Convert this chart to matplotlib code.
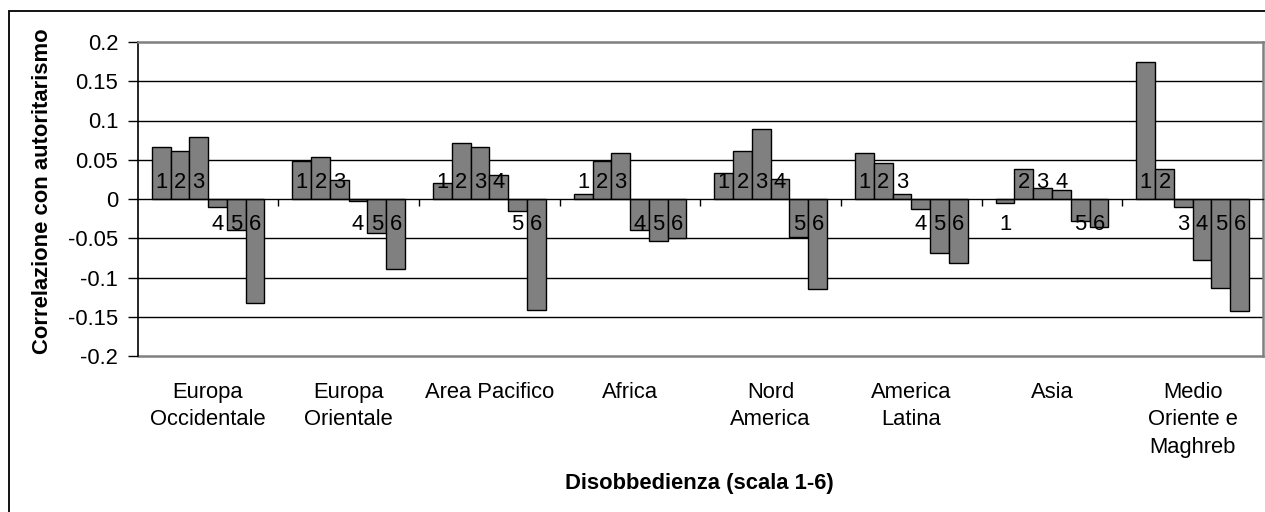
import numpy as np
import matplotlib.pyplot as plt
import matplotlib.transforms as mtransforms
from matplotlib.patches import Rectangle

plt.rcParams['font.family'] = ['Liberation Sans', 'DejaVu Sans']
plt.rcParams['axes.unicode_minus'] = False

regioni = ["Europa\nOccidentale", "Europa\nOrientale", "Area Pacifico", "Africa",
           "Nord\nAmerica", "America\nLatina", "Asia", "Medio\nOriente e\nMaghreb"]
livelli = ["1", "2", "3", "4", "5", "6"]

# correlazione per livello di disobbedienza (1..6), una lista per regione
europa_occ = [0.066, 0.061, 0.079, -0.010, -0.039, -0.133]
europa_ori = [0.049, 0.053, 0.024, -0.003, -0.043, -0.089]
area_pac = [0.020, 0.071, 0.066, 0.030, -0.015, -0.142]
africa = [0.007, 0.049, 0.059, -0.039, -0.054, -0.050]
nord_am = [0.033, 0.061, 0.089, 0.026, -0.049, -0.115]
america_lat = [0.059, 0.046, 0.007, -0.013, -0.069, -0.082]
asia = [-0.005, 0.038, 0.014, 0.012, -0.028, -0.036]
medio_or = [0.175, 0.038, -0.010, -0.078, -0.114, -0.143]

valori = [europa_occ, europa_ori, area_pac, africa, nord_am, america_lat, asia, medio_or]

yticks = [0.2, 0.15, 0.1, 0.05, 0, -0.05, -0.1, -0.15, -0.2]
ytick_labels = ["0.2", "0.15", "0.1", "0.05", "0", "-0.05", "-0.1", "-0.15", "-0.2"]

fs = 15.8
fig = plt.figure(figsize=(12.65, 5.12), dpi=100)
ax = fig.add_axes([137.7 / 1265, 1 - 356 / 512, (1263 - 137.7) / 1265, 314 / 512])

w = 1 / 7.5
for i, vals in enumerate(valori):
    for j, v in enumerate(vals):
        x = i + 0.5 + (j - 2.5) * w
        ax.bar(x, v, width=w, color="#808080", edgecolor="black", linewidth=1.0, zorder=3)
        off = 8 if v >= 0 else -22.5
        ax.annotate(livelli[j], (x, 0), xytext=(0, off), textcoords="offset points",
                    ha="center", va="baseline", fontsize=fs, zorder=4)

ax.set_xlim(0, 8)
ax.set_ylim(-0.2, 0.2)
ax.set_yticks(yticks)
ax.set_yticklabels(ytick_labels, fontsize=fs)
ax.tick_params(axis="y", direction="out", length=7, width=1, pad=7, color="black")

# griglia
for y in [0.15, 0.1, 0.05, -0.05, -0.1, -0.15]:
    ax.axhline(y, color="black", linewidth=1.0, zorder=1)

ax.spines["bottom"].set_position(("data", 0))
ax.spines["bottom"].set_color("black")
ax.spines["bottom"].set_linewidth(1.0)
ax.spines["bottom"].set_zorder(5)
ax.spines["left"].set_color("black")
ax.spines["left"].set_linewidth(1.2)
for s in ["top", "right"]:
    ax.spines[s].set_color("#808080")
    ax.spines[s].set_linewidth(1.8)
ax.axhline(-0.2, color="#808080", linewidth=1.8, zorder=2, clip_on=False)

ax.set_xticks(np.arange(1, 8))
ax.set_xticklabels([""] * 7)
ax.tick_params(axis="x", direction="out", length=5, width=1, color="black")

trans = mtransforms.blended_transform_factory(ax.transData, ax.transAxes)
for i, lab in enumerate(regioni):
    ax.annotate(lab, (i + 0.5, 0), xycoords=trans, xytext=(0, -19),
                textcoords="offset points", ha="center", va="top",
                fontsize=fs, linespacing=1.38)

fig.text(43 / 1265, 1 - 191 / 512, "Correlazione con autoritarismo", rotation=90,
         ha="center", va="center", fontsize=fs, fontweight="bold")
fig.text(699 / 1265, 1 - 483 / 512, "Disobbedienza (scala 1-6)",
         ha="center", va="center", fontsize=fs, fontweight="bold")

fig.patches.append(Rectangle((9 / 1265, -0.2), 1.5, 1 - 11 / 512 + 0.2, fill=False,
                             edgecolor="black", linewidth=1.3, transform=fig.transFigure))

fig.savefig("out.png", dpi=100)
